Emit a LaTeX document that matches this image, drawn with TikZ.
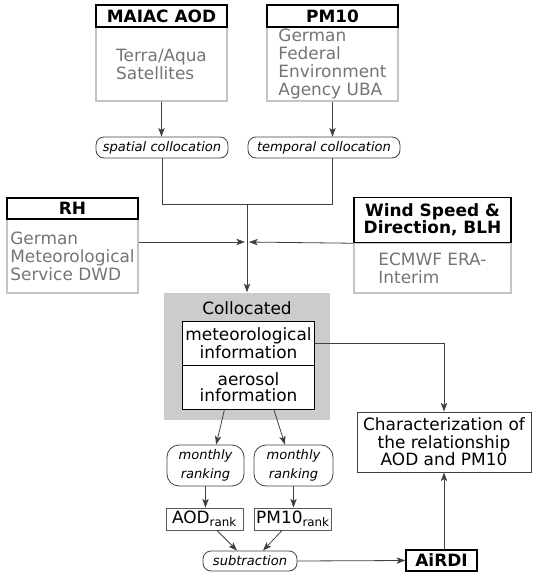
\documentclass[tikz,border=0pt]{standalone}
\usepackage{fontspec}
\setmainfont{DejaVu Sans}
\usetikzlibrary{arrows.meta,positioning,calc}

\definecolor{linegray}{HTML}{404040}
\definecolor{srcgray}{HTML}{C4C4C4}
\definecolor{srctext}{HTML}{747474}
\definecolor{collgray}{HTML}{CCCCCC}

\begin{document}
\begin{tikzpicture}[
    x=0.75pt, y=-0.75pt,
    head/.style={draw=black, line width=1.1pt, fill=white, minimum width=98.25pt, minimum height=16.5pt, inner sep=1pt, align=center, font=\fontsize{12.7}{12.5}\selectfont\bfseries},
    source/.style={draw=srcgray, line width=1.1pt, minimum width=98.25pt, minimum height=55.5pt, inner sep=1pt, align=left, text=srctext, font=\fontsize{12.7}{13.5}\selectfont},
    proc/.style={draw=linegray, rounded corners=6pt, line width=0.6pt, minimum height=15.75pt, inner sep=1pt, align=center, font=\fontsize{9.8}{14}\selectfont\itshape},
    inbox/.style={draw=black, line width=0.7pt, fill=white, minimum width=99pt, minimum height=33pt, inner sep=1pt, align=center, font=\fontsize{12.7}{12}\selectfont},
    rankbox/.style={draw=black!65, line width=0.7pt, minimum height=16.5pt, inner sep=1pt, font=\fontsize{12.7}{13}\selectfont},
    arrow/.style={-{Stealth[length=6.5pt,width=4.8pt,inset=1.6pt]}, linegray, line width=0.6pt},
    conn/.style={linegray, line width=0.6pt}
]
\useasboundingbox (0,0) rectangle (533,572);

% --- aerosol data sources ---
\node[source] (maiacsrc) at (161.5,64) {Terra/Aqua\\Satellites};
\node[head] (maiac) at (161.5,16) {MAIAC AOD};
\node[source] (pmsrc) at (332.5,64) {German\\Federal\\Environment\\Agency UBA};
\node[head] (pm) at (332.5,16) {PM10};

% --- collocation steps ---
\node[proc, minimum width=99pt] (spatial) at (162,147.5) {spatial collocation};
\node[proc, minimum width=114pt] (temporal) at (324,147.5) {temporal collocation};

% --- meteorological data sources ---
\node[source] (rhsrc) at (72.5,256) {German\\Meteorological\\Service DWD};
\node[head, minimum height=15.75pt] (rh) at (72.5,208.5) {RH};
\node[source, minimum width=117.75pt, minimum height=37.5pt] (windsrc) at (432.5,268) {ECMWF ERA-\\Interim};
\node[head, minimum width=117.75pt, minimum height=33.75pt] (wind) at (432.5,220) {Wind Speed \&\\Direction, BLH};

% --- collocated data set ---
\node[fill=collgray, minimum width=124.5pt, minimum height=95.25pt] (coll) at (247,356) {};
\node[font=\fontsize{12.7}{13}\selectfont] (colltitle) at (247,308) {Collocated};
\node[inbox] (meteo) at (248.5,343) {meteorological\\information};
\node[inbox] (aero) at (248.5,387) {aerosol\\information};

\node[draw=black!75, line width=0.7pt, minimum width=130.5pt, minimum height=45pt, inner sep=1pt, align=center, font=\fontsize{12.7}{13}\selectfont] (charac) at (444,442) {Characterization of\\the relationship\\AOD and PM10};

% --- ranking and index ---
\node[proc, rounded corners=9pt, minimum width=57.75pt, minimum height=30.75pt] (rankA) at (205.5,465.5) {monthly\\ranking};
\node[proc, rounded corners=9pt, minimum width=59.25pt, minimum height=30.75pt] (rankB) at (293.5,465.5) {monthly\\ranking};
\node[rankbox, minimum width=57.75pt] (aodrank) at (204.5,519) {AOD\textsubscript{rank}};
\node[rankbox, minimum width=55.5pt] (pmrank) at (293,519) {PM10\textsubscript{rank}};
\node[proc, minimum width=70.5pt, minimum height=15pt] (subtr) at (250,561) {subtraction};
\node[head, minimum width=53.25pt, minimum height=15.75pt] (airdi) at (441.5,560.5) {AiRDI};

% --- connectors ---
\coordinate (jn) at (247,204);
\coordinate (mx) at (247,242);
\draw[arrow] (maiacsrc.south) -- (maiacsrc.south |- spatial.north);
\draw[arrow] (pmsrc.south) -- (pmsrc.south |- temporal.north);
\draw[conn] (spatial.south) |- (jn);
\draw[conn] (pmsrc.south |- temporal.south) |- (jn);
\draw[arrow] (jn) -- (coll.north);
\draw[arrow, shorten >=1.5pt] (rhsrc.east |- mx) -- (mx);
\draw[arrow, shorten >=1.5pt] (wind.south west) -- (mx);
\draw[arrow] (meteo.east) -| (charac.north);
\draw[arrow] (airdi.north -| charac.south) -- (charac.south);
\draw[arrow] ([xshift=-18pt]aero.south) -- ([xshift=8pt]rankA.north);
\draw[arrow] ([xshift=19pt]aero.south) -- ([xshift=-6.4pt]rankB.north);
\draw[arrow] (rankA.south) -- (rankA.south |- aodrank.north);
\draw[arrow] (rankB.south) -- (rankB.south |- pmrank.north);
\draw[arrow] ([xshift=9.4pt]aodrank.south) -- ([xshift=-9.75pt]subtr.north);
\draw[arrow] ([xshift=-8.25pt]pmrank.south) -- ([xshift=9.75pt]subtr.north);
\draw[arrow] (subtr.east) -- (airdi.west);

\end{tikzpicture}
\end{document}
